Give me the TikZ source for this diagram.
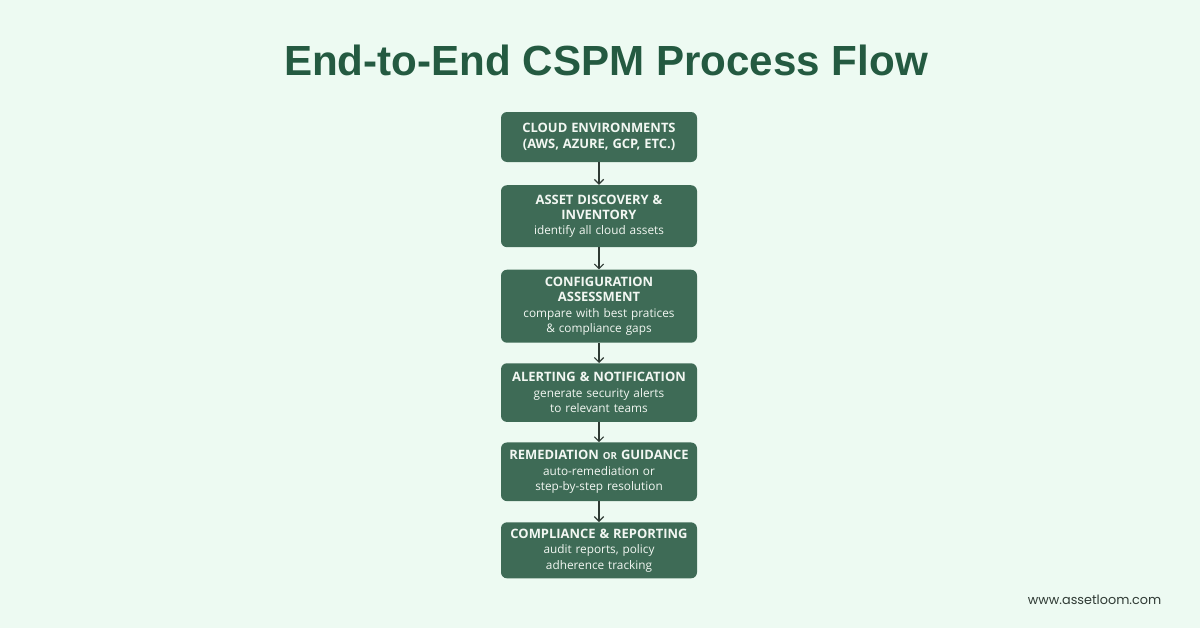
\documentclass[tikz,border=0pt]{standalone}
\usepackage{fontspec}
\setmainfont{Open Sans}
\newfontfamily\titlefont{Liberation Sans}
\newfontfamily\webfont{Poppins}
\usetikzlibrary{positioning,arrows.meta}
\definecolor{bgmint}{HTML}{EDFAF2}
\definecolor{boxgreen}{HTML}{3E6B56}
\definecolor{titlegreen}{HTML}{245A41}
\definecolor{boxtext}{HTML}{F2F7F2}
\definecolor{arrowgray}{HTML}{2F3A34}
\newcommand*{\hd}[1]{{\fontsize{9.7}{11.6}\selectfont\bfseries #1}}
\newcommand*{\smc}[1]{{\fontsize{7.3}{11.6}\selectfont\bfseries #1}}

\begin{document}
\begin{tikzpicture}[x=0.75pt,y=-0.75pt,
  stage/.style={draw=none,fill=boxgreen,rounded corners=4.5pt,
    text=boxtext,align=center,text width=143pt,minimum width=147pt,
    inner sep=2pt,font=\fontsize{8.85}{11.6}\selectfont},
  flow/.style={-{Straight Barb[length=3.5pt,width=7pt]},line width=0.9pt,arrowgray},
  node distance=16.5pt]
% Page and background
\fill[bgmint] (0,0) rectangle (1200,628);
\useasboundingbox (0,0) rectangle (1200,628);
% Title
\node[titlegreen,font=\titlefont\fontsize{31.6}{38}\selectfont\bfseries] (title) at (606,60) {End-to-End CSPM Process Flow};
% Process stages, top to bottom
\node[stage,minimum height=37.5pt] (cloud) at (599,137)
  {\hd{CLOUD ENVIRONMENTS}\\\hd{(AWS, AZURE, GCP, ETC.)}};
\node[stage,minimum height=46.5pt,below=17pt of cloud] (discover)
  {\hd{ASSET DISCOVERY \&}\\\hd{INVENTORY}\\identify all cloud assets};
\node[stage,minimum height=54.75pt,below=of discover] (assess)
  {\hd{CONFIGURATION}\\\hd{ASSESSMENT}\\compare with best pratices\\\& compliance gaps};
\node[stage,minimum height=44pt,below=15pt of assess] (alert)
  {\hd{ALERTING \& NOTIFICATION}\\generate security alerts\\to relevant teams};
\node[stage,minimum height=44pt,below=15pt of alert] (remedy)
  {\hd{REMEDIATION \smc{OR} GUIDANCE}\\auto-remediation or\\step-by-step resolution};
\node[stage,minimum height=42pt,below=15.5pt of remedy] (report)
  {\hd{COMPLIANCE \& REPORTING}\\audit reports, policy\\adherence tracking};
% Connectors
\draw[flow] (cloud) -- (discover);
\draw[flow] (discover) -- (assess);
\draw[flow] (assess) -- (alert);
\draw[flow] (alert) -- (remedy);
\draw[flow] (remedy) -- (report);
% Footer
\node[anchor=east,text=arrowgray,font=\webfont\fontsize{9.6}{11}\selectfont] (web) at (1166,600) {www.assetloom.com};
\end{tikzpicture}
\end{document}
